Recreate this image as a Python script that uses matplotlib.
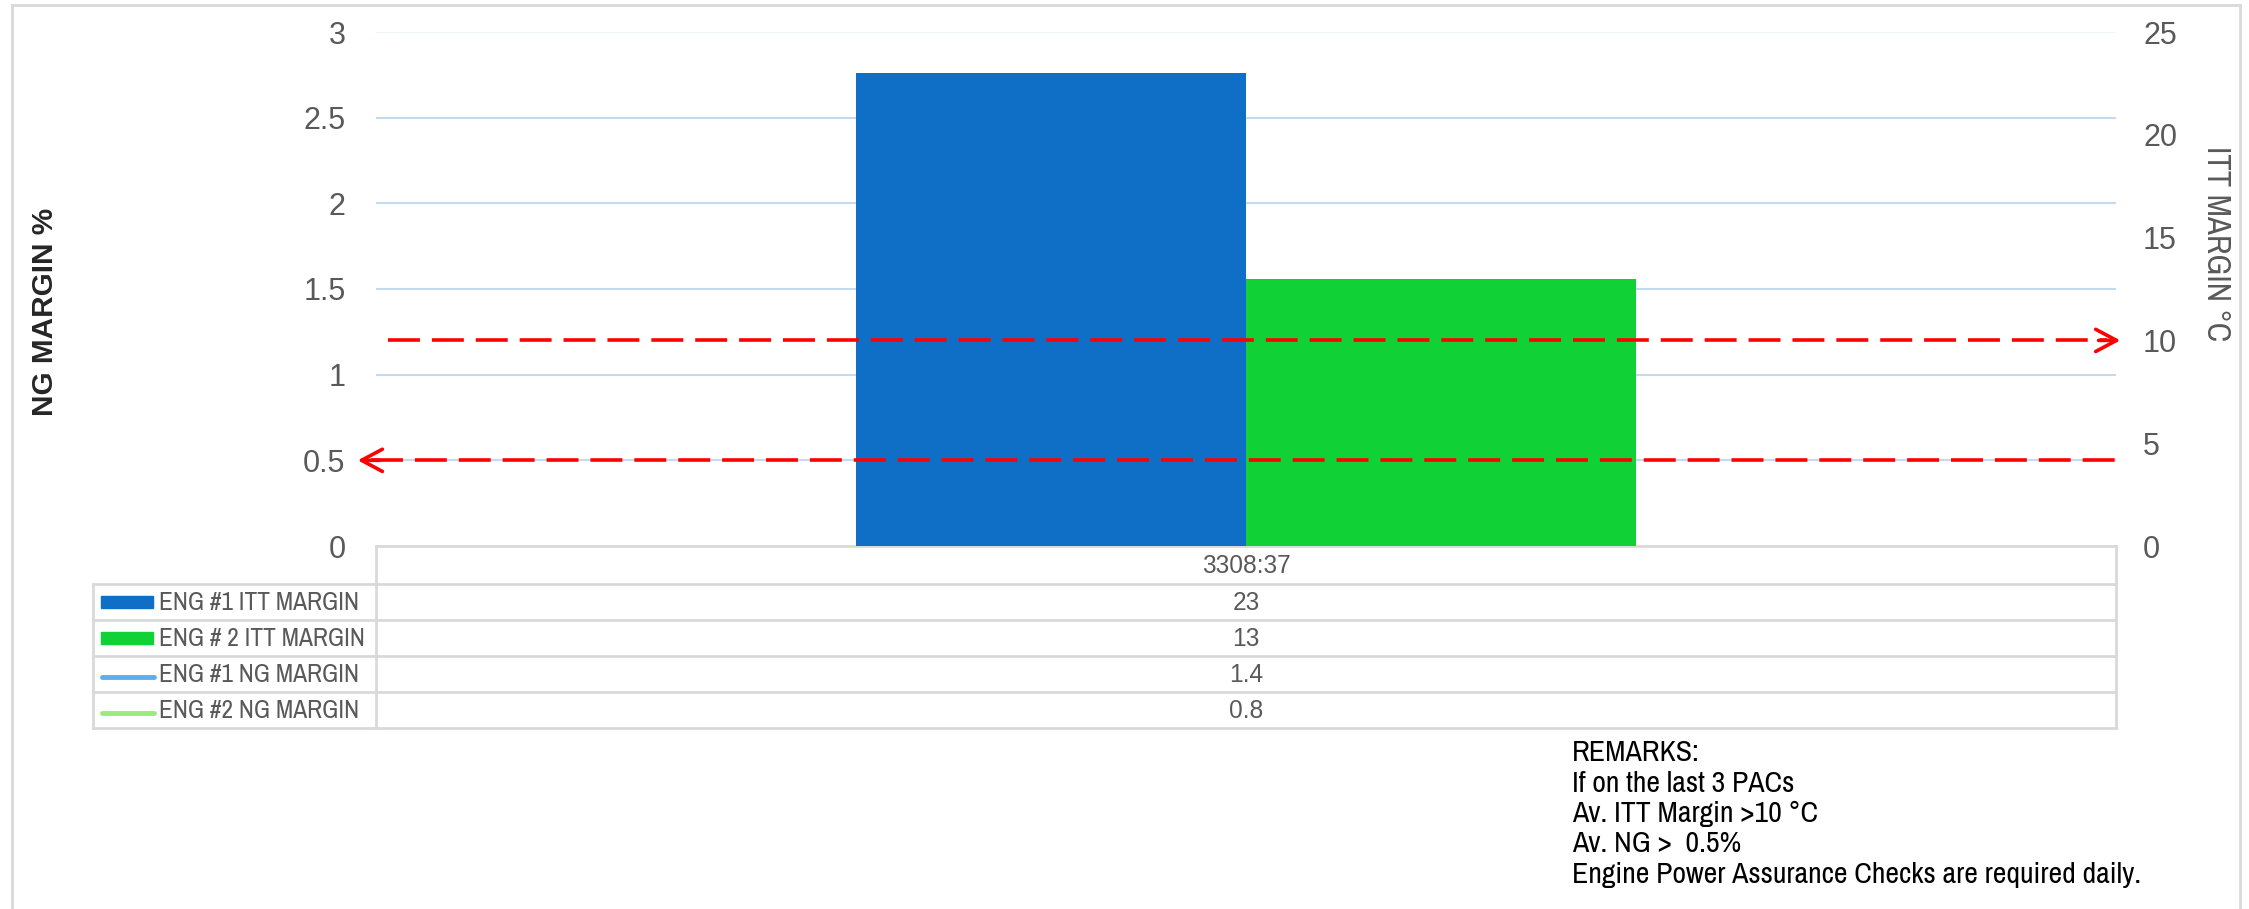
import matplotlib
matplotlib.use("Agg")
import matplotlib.pyplot as plt
from matplotlib.transforms import blended_transform_factory
from matplotlib.patches import Rectangle
from matplotlib.lines import Line2D

# ---------------- data ----------------
categories = ["3308:37"]
itt_eng1 = [23]
itt_eng2 = [13]
ng_eng1 = [1.4]
ng_eng2 = [0.8]
series_names = ["ENG #1 ITT MARGIN", "ENG # 2 ITT MARGIN", "ENG #1 NG MARGIN", "ENG #2 NG MARGIN"]
itt_limit = 10
ng_limit = 0.5
left_ticks = [0, 0.5, 1, 1.5, 2, 2.5, 3]
left_ticklabels = ["0", "0.5", "1", "1.5", "2", "2.5", "3"]
right_ticks = [0, 5, 10, 15, 20, 25]
remarks = ["REMARKS:", "If on the last 3 PACs", "Av. ITT Margin >10 \u00b0C",
           "Av. NG >  0.5%", "Engine Power Assurance Checks are required daily."]

# ---------------- style ----------------
plt.rcParams['font.family'] = ['Liberation Sans', 'DejaVu Sans']
NARROW = ['Archivo Narrow', 'Liberation Sans Narrow', 'Liberation Sans', 'DejaVu Sans']
BLUE = '#0F6FC6'
GREEN = '#10D236'
LBLUE = '#5BAEF0'
LGREEN = '#9BE97A'
GRID = '#C3DAF1'
TGRID = '#D9D9D9'
GREY = '#595959'

W, H = 2249, 909
fig = plt.figure(figsize=(W / 100, H / 100), dpi=100)
renderer = fig.canvas.get_renderer()


def fit_width(t, target_px, horizontal=True):
    bb = t.get_window_extent(renderer)
    size = bb.width if horizontal else bb.height
    if size > 0:
        t.set_fontsize(t.get_fontsize() * target_px / size)


# pixel helper axes (overlay for table, border)
pax = fig.add_axes([0, 0, 1, 1], zorder=0)
pax.set_xlim(0, W)
pax.set_ylim(H, 0)
pax.axis('off')

# outer border
for xs, ys in [([12, 12], [5, 915]), ([12, 2240], [5, 5]), ([2240, 2240], [5, 915])]:
    pax.add_line(Line2D(xs, ys, color=TGRID, lw=2))

PL, PR, PT, PB = 376, 2116, 32, 546
ax = fig.add_axes([PL / W, 1 - PB / H, (PR - PL) / W, (PB - PT) / H], zorder=2)
ax.patch.set_alpha(0)
ax2 = ax.twinx()
ax2.set_zorder(1)
ax.set_zorder(2)

x = list(range(len(categories)))
bw = 0.224
ax2.bar([i - bw / 2 for i in x], itt_eng1, width=bw, color=BLUE, zorder=3)
ax2.bar([i + bw / 2 for i in x], itt_eng2, width=bw, color=GREEN, zorder=3)
# NG margin lines (single category -> no visible segment)
ax.plot(x, ng_eng1, color=LBLUE, lw=3)
ax.plot(x, ng_eng2, color=LGREEN, lw=3)

ax.set_xlim(-0.5, len(categories) - 0.5)
ax.set_ylim(0, 3)
ax2.set_ylim(0, 25)
ax.set_xticks([])
ax2.set_xticks([])
ax.set_yticks(left_ticks)
ax.set_yticklabels(left_ticklabels)
ax2.set_yticks(right_ticks)
for a in (ax, ax2):
    for s in a.spines.values():
        s.set_visible(False)
    a.tick_params(axis='y', length=0, labelsize=22, labelcolor=GREY)
ax.tick_params(axis='y', pad=22)
ax2.tick_params(axis='y', pad=19.5)

# gridlines (left axis ticks)
for t in left_ticks[1:]:
    c = '#EDF3FA' if t == left_ticks[-1] else GRID
    ax2.axhline(t / 3 * 25, color=c, lw=1.5, zorder=0)

# axis titles
t_ng = fig.text(45 / W, 1 - 312 / H, "NG MARGIN %", rotation=90, ha='center', va='center',
                fontsize=20, fontweight='bold', color='#262626')
fit_width(t_ng, 208, horizontal=False)
t_itt = fig.text(2216 / W, 1 - 244 / H, "ITT MARGIN \u00b0C", rotation=270, ha='center', va='center',
                 fontsize=21, color=GREY, family=NARROW, fontweight='medium')
fit_width(t_itt, 195, horizontal=False)

# red dashed limit lines with arrowheads
plt.rcParams['lines.scale_dashes'] = False
tr2 = blended_transform_factory(ax2.transAxes, ax2.transData)
tr1 = blended_transform_factory(ax.transAxes, ax.transData)
ax2.plot([0.007, 0.995], [itt_limit, itt_limit], transform=tr2, color='red', lw=2.6,
         dashes=(23, 8.6), clip_on=False, zorder=5)
ax2.annotate('', xy=(1.0025, itt_limit), xytext=(0.99, itt_limit), xycoords=tr2, textcoords=tr2,
             arrowprops=dict(arrowstyle='->,head_length=1.5,head_width=0.8', color='red', lw=2.6,
                             shrinkA=0, shrinkB=0, mutation_scale=10), annotation_clip=False, zorder=5)
ax.plot([-0.003, 1.0], [ng_limit, ng_limit], transform=tr1, color='red', lw=2.6,
        dashes=(23, 8.6), clip_on=False, zorder=5)
ax.annotate('', xy=(-0.0105, ng_limit), xytext=(0.002, ng_limit), xycoords=tr1, textcoords=tr1,
            arrowprops=dict(arrowstyle='->,head_length=1.5,head_width=0.8', color='red', lw=2.6,
                            shrinkA=0, shrinkB=0, mutation_scale=10), annotation_clip=False, zorder=5)

# ---------------- data table ----------------
TL, TD = 93, PL
rows_y = [546, 584, 620, 656, 692, 728]
lw_t = 2
pax.add_line(Line2D([TD, PR], [rows_y[0], rows_y[0]], color=TGRID, lw=lw_t))
for yy in rows_y[1:]:
    pax.add_line(Line2D([TL, PR], [yy, yy], color=TGRID, lw=lw_t))
pax.add_line(Line2D([TL, TL], [rows_y[1], rows_y[-1]], color=TGRID, lw=lw_t))
pax.add_line(Line2D([TD, TD], [rows_y[0], rows_y[-1]], color=TGRID, lw=lw_t))
pax.add_line(Line2D([PR, PR], [rows_y[0], rows_y[-1]], color=TGRID, lw=lw_t))

ccx = (TD + PR) / 2
t_cat = pax.text(ccx, (rows_y[0] + rows_y[1]) / 2 + 1, categories[0], ha='center', va='center',
                 fontsize=18, color=GREY)
fit_width(t_cat, 89)
values = [itt_eng1[0], itt_eng2[0], ng_eng1[0], ng_eng2[0]]
swatch = [('bar', BLUE), ('bar', GREEN), ('line', LBLUE), ('line', LGREEN)]
name_size = None
for i, (name, val, (kind, col)) in enumerate(zip(series_names, values, swatch)):
    cy = (rows_y[i + 1] + rows_y[i + 2]) / 2
    pax.text(ccx, cy + 1, f"{val:g}", ha='center', va='center', fontsize=t_cat.get_fontsize(), color=GREY)
    tn = pax.text(159, cy + 1, name, ha='left', va='center', fontsize=18, color=GREY, family=NARROW)
    if name_size is None:
        fit_width(tn, 201)
        name_size = tn.get_fontsize()
    else:
        tn.set_fontsize(name_size)
    if kind == 'bar':
        pax.add_patch(Rectangle((101, cy - 6), 52, 12, color=col))
    else:
        pax.add_line(Line2D([102, 154], [cy + 3, cy + 3], color=col, lw=3.5, solid_capstyle='round'))

# ---------------- remarks ----------------
rtexts = []
for i, line in enumerate(remarks):
    rtexts.append(pax.text(1572, 753 + i * 30.5, line, ha='left', va='center', fontsize=18,
                           color='black', family=NARROW))
fit_width(rtexts[-1], 570)
for rt in rtexts[:-1]:
    rt.set_fontsize(rtexts[-1].get_fontsize())

fig.savefig("out.png", dpi=100)
